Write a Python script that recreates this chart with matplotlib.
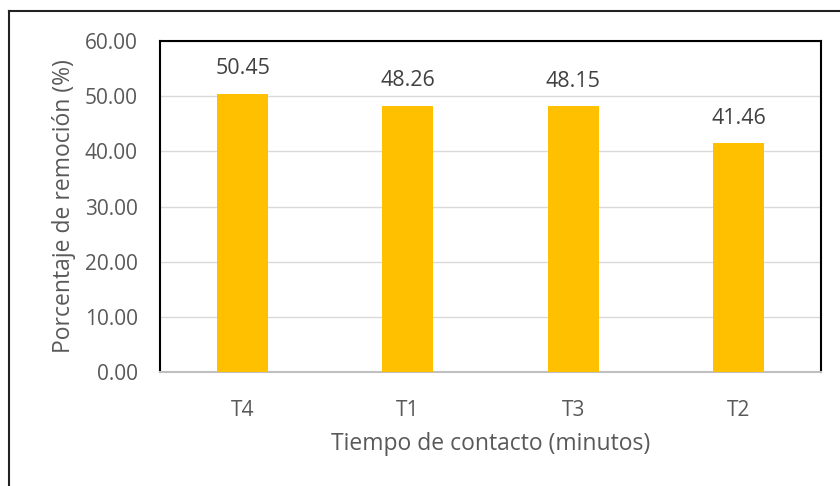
import matplotlib.pyplot as plt
from matplotlib.lines import Line2D
import numpy as np

categories = ["T4", "T1", "T3", "T2"]
values = [50.45, 48.26, 48.15, 41.46]
yticks = [0, 10, 20, 30, 40, 50, 60]

plt.rcParams["font.family"] = ["Open Sans", "DejaVu Sans"]
text_color = "#595959"

fig = plt.figure(figsize=(8.4, 4.86), dpi=100)
ax = fig.add_axes([160 / 840, 1 - 372 / 486, 661 / 840, 331 / 486])

x = np.arange(len(categories))
ax.bar(x, values, width=0.31, color="#ffc000", zorder=3)
for xi, v in zip(x, values):
    ax.text(xi, v + 2.6, f"{v:.2f}", ha="center", va="bottom",
            fontsize=15.5, color="#404040")

ax.set_xlim(-0.5, len(categories) - 0.5)
ax.set_ylim(0, 60)
ax.set_yticks(yticks)
ax.set_yticklabels([f"{t:.2f}" for t in yticks])
ax.set_xticks(x)
ax.set_xticklabels(categories)
ax.tick_params(axis="both", length=0, labelsize=15, colors=text_color)
ax.tick_params(axis="x", pad=20)
ax.tick_params(axis="y", pad=16)
ax.yaxis.grid(True, color="#d9d9d9", linewidth=1, zorder=0)

for side in ["left", "top", "right"]:
    ax.spines[side].set_color("black")
    ax.spines[side].set_linewidth(1.5)
ax.spines["bottom"].set_color("#bfbfbf")
ax.spines["bottom"].set_linewidth(1.5)

ax.set_xlabel("Tiempo de contacto (minutos)", fontsize=16.5, color=text_color, labelpad=8)
ax.set_ylabel("Porcentaje de remoción (%)", fontsize=16.5, color=text_color, labelpad=6)

# outer frame (left and top edges visible)
fig.add_artist(Line2D([8.5 / 840, 8.5 / 840], [0, 1 - 11 / 486], color="#222222", linewidth=1.5))
fig.add_artist(Line2D([8.5 / 840, 1], [1 - 11 / 486, 1 - 11 / 486], color="#222222", linewidth=1.5))

plt.savefig("out.png", dpi=100)
